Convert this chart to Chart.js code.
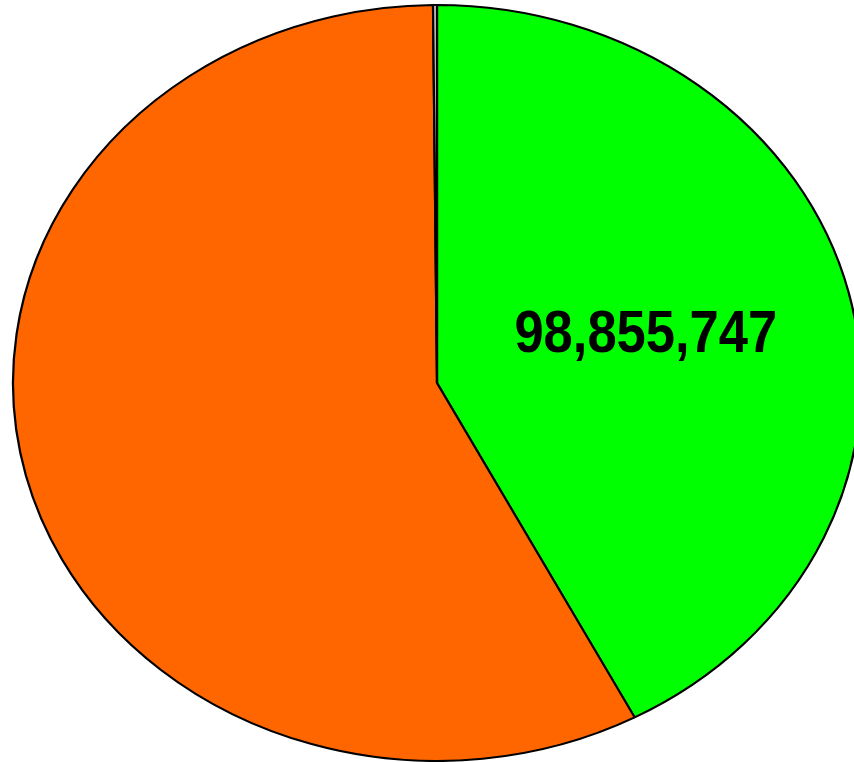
<!DOCTYPE html>
<html>
<head>
<meta charset="utf-8">
<script src="https://cdn.jsdelivr.net/npm/chart.js@4"></script>
<style>
  body { margin: 0; background: #fff; }
  canvas { display: block; }
</style>
</head>
<body>
<canvas id="pieChart" width="854" height="762"></canvas>
<script>
// slice data, clockwise from 12 o'clock
const sliceNames = ["Green", "Orange", "Other"];
const sliceValues = [98855747, 134600000, 350000];
const sliceColors = ["#00FF00", "#FF6600", "#CCCCCC"];
const labelSlices = [0]; // only the green one carries its value

// the pie is drawn as an ellipse
const ellipse = { cx: 437, cy: 383, rx: 424, ry: 378 };

let mapPoint; // chart coords -> stretched coords

const stretchPie = {
  id: "stretchPie",
  beforeDatasetsDraw(chart) {
    const arc = chart.getDatasetMeta(0).data[0];
    const R = arc.outerRadius;
    const sx = ellipse.rx / R, sy = ellipse.ry / R;
    mapPoint = (p) => ({
      x: ellipse.cx + (p.x - arc.x) * sx,
      y: ellipse.cy + (p.y - arc.y) * sy
    });
    const ctx = chart.ctx;
    ctx.save();
    ctx.translate(ellipse.cx, ellipse.cy);
    ctx.scale(sx, sy);
    ctx.translate(-arc.x, -arc.y);
  },
  afterDatasetsDraw(chart) {
    chart.ctx.restore();
  },
  afterDraw(chart) {
    const ctx = chart.ctx;
    const meta = chart.getDatasetMeta(0);
    labelSlices.forEach((i) => {
      const p = mapPoint(meta.data[i].tooltipPosition());
      ctx.save();
      ctx.translate(p.x + 3, p.y - 2);
      ctx.scale(0.875, 1);
      ctx.fillStyle = "#000";
      ctx.font = "bold 60px 'Liberation Sans', Arial, sans-serif";
      ctx.textAlign = "center";
      ctx.textBaseline = "middle";
      ctx.fillText(sliceValues[i].toLocaleString("en-US"), 0, 0);
      ctx.restore();
    });
  }
};

new Chart(document.getElementById("pieChart"), {
  type: "pie",
  data: {
    labels: sliceNames,
    datasets: [{
      data: sliceValues,
      backgroundColor: sliceColors,
      borderColor: "#000",
      borderWidth: 2
    }]
  },
  options: {
    responsive: false,
    animation: false,
    devicePixelRatio: 1,
    plugins: {
      legend: { display: false },
      tooltip: { enabled: false }
    }
  },
  plugins: [stretchPie]
});
</script>
</body>
</html>
